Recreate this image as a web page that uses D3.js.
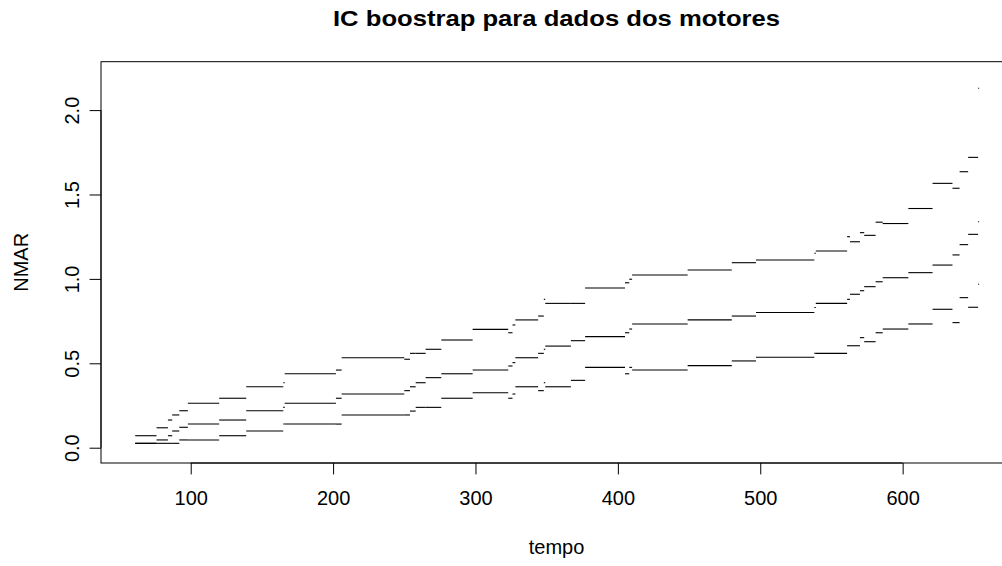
<!DOCTYPE html>
<html>
<head>
<meta charset="utf-8">
<script src="https://cdn.jsdelivr.net/npm/d3@7"></script>
<style>
  html, body { margin: 0; padding: 0; background: #fff; }
  svg { display: block; }
  text { font-family: "Liberation Sans", Arial, Helvetica, sans-serif; fill: #000; }
</style>
</head>
<body>
<svg id="chart" width="1002" height="566"></svg>
<script>
// ---- data ----
const times = [61,76,84,87,92,98,120,139,165,166,202,206,250,254,258,265,276,298,323,326,328,344,348,349,367,377,405,408,410,449,480,497,538,539,561,563,570,573,581,586,604,621,635,640,646,653];
const endTime = 653.7;
const upper = [0.071,0.118,0.164,0.194,0.219,0.263,0.293,0.361,0.385,0.438,0.460,0.533,0.524,0.559,0.559,0.583,0.638,0.701,0.681,0.727,0.757,0.780,0.879,0.855,0.855,0.946,0.977,0.998,1.023,1.053,1.096,1.112,1.152,1.165,1.250,1.220,1.274,1.258,1.336,1.328,1.417,1.566,1.537,1.635,1.720,2.129];
const middle = [0.026,0.046,0.071,0.099,0.121,0.140,0.164,0.219,0.239,0.263,0.293,0.318,0.338,0.361,0.385,0.415,0.438,0.460,0.484,0.504,0.533,0.559,0.583,0.602,0.634,0.658,0.681,0.703,0.733,0.757,0.780,0.801,0.831,0.855,0.879,0.909,0.930,0.954,0.983,1.007,1.037,1.082,1.142,1.203,1.264,1.339];
const lower = [0.026,0.026,0.026,0.026,0.046,0.046,0.071,0.099,0.140,0.140,0.140,0.194,0.194,0.217,0.239,0.239,0.293,0.326,0.293,0.318,0.361,0.338,0.385,0.361,0.399,0.476,0.438,0.476,0.460,0.486,0.514,0.536,0.559,0.559,0.604,0.604,0.652,0.628,0.681,0.703,0.733,0.820,0.741,0.889,0.832,0.968];
const xTicks = [100,200,300,400,500,600];
const yTicks = [0, 0.5, 1.0, 1.5, 2.0];
const yTickLabels = ["0.0","0.5","1.0","1.5","2.0"];
const title = "IC boostrap para dados dos motores";
const xTitle = "tempo";
const yTitle = "NMAR";

// ---- layout ----
const plot = {left: 101, right: 1012, top: 61.7, bottom: 463};
const svg = d3.select("#chart");
const x = d3.scaleLinear().domain([37.0, 676.8]).range([plot.left, plot.right]);
const y = d3.scaleLinear().domain([-0.0906, 2.2867]).range([plot.bottom, plot.top]);

// box
svg.append("rect")
  .attr("x", plot.left).attr("y", plot.top)
  .attr("width", plot.right - plot.left).attr("height", plot.bottom - plot.top)
  .attr("fill", "none").attr("stroke", "#000").attr("stroke-width", 1);

// step segments
const series = [upper, middle, lower];
const gSeg = svg.append("g");
series.forEach(vals => {
  const segs = vals.map((v, i) => ({x0: times[i], x1: i + 1 < times.length ? times[i + 1] : endTime, v}));
  gSeg.selectAll(null).data(segs).enter().append("line")
    .attr("x1", d => x(d.x0)).attr("x2", d => x(d.x1))
    .attr("y1", d => y(d.v)).attr("y2", d => y(d.v))
    .attr("stroke", "#000").attr("stroke-width", 1.1);
});

const fontSize = "20px";

// x axis
const gx = svg.append("g").attr("transform", `translate(0,${plot.bottom})`)
  .call(d3.axisBottom(x).tickValues(xTicks).tickSize(11.4).tickFormat(d3.format("d")));
gx.select(".domain").remove();
gx.append("line").attr("x1", x(xTicks[0])).attr("x2", x(xTicks[xTicks.length - 1]))
  .attr("stroke", "#000");
gx.selectAll(".tick line").attr("stroke", "#000");
gx.selectAll(".tick text").attr("y", 42).attr("dy", 0)
  .style("font-size", fontSize).style("font-family", '"Liberation Sans", Arial, sans-serif').attr("fill", "#000");

// y axis
const gy = svg.append("g").attr("transform", `translate(${plot.left},0)`)
  .call(d3.axisLeft(y).tickValues(yTicks).tickSize(11.4).tickFormat((d, i) => yTickLabels[i]));
gy.select(".domain").remove();
gy.append("line").attr("y1", y(yTicks[0])).attr("y2", y(yTicks[yTicks.length - 1]))
  .attr("stroke", "#000");
gy.selectAll(".tick line").attr("stroke", "#000");
gy.selectAll(".tick text")
  .attr("x", 0).attr("y", -21.7).attr("dy", 0)
  .attr("transform", "rotate(-90)")
  .attr("text-anchor", "middle")
  .style("font-size", fontSize).style("font-family", '"Liberation Sans", Arial, sans-serif').attr("fill", "#000");

// titles
const cx = (plot.left + plot.right) / 2;
svg.append("text").attr("x", cx).attr("y", 26)
  .attr("text-anchor", "middle").style("font-size", "22px").style("font-weight", "bold")
  .attr("textLength", 447).attr("lengthAdjust", "spacingAndGlyphs")
  .text(title);
svg.append("text").attr("x", cx).attr("y", 554)
  .attr("text-anchor", "middle").style("font-size", fontSize)
  .text(xTitle);
svg.append("text")
  .attr("transform", `translate(28.3,${(plot.top + plot.bottom) / 2}) rotate(-90)`)
  .attr("text-anchor", "middle").style("font-size", fontSize)
  .text(yTitle);
</script>
</body>
</html>
